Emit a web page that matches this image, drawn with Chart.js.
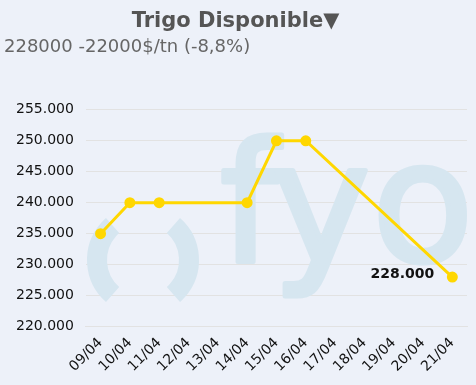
<!DOCTYPE html>
<html lang="es">
<head>
  <meta charset="UTF-8">
  <title>Trigo Disponible</title>
  <script src="https://cdn.jsdelivr.net/npm/chart.js"></script>
  <style>
    html, body { margin: 0; padding: 0; background: #edf1f9; }
    #wrap { width: 476px; height: 385px; }
  </style>
</head>
<body>
<div id="wrap"><canvas id="chart"></canvas></div>
<script>
    // datos
    const labels = ['09/04', '10/04', '11/04', '12/04', '13/04', '14/04', '15/04', '16/04', '17/04', '18/04', '19/04', '20/04', '21/04'];
    const precios = [235000, 240000, 240000, null, null, 240000, 250000, 250000, null, null, null, null, 228000];
    const yTicks = [220000, 225000, 230000, 235000, 240000, 245000, 250000, 255000];

    function formatMiles(v) {
        return String(v).replace(/\B(?=(\d{3})+(?!\d))/g, '.');
    }

    // marca de agua "(fyo)"
    const watermark = {
        id: 'watermark',
        beforeDatasetsDraw(chart) {
            const ctx = chart.ctx;
            ctx.save();
            ctx.fillStyle = '#d6e6f0';
            ctx.strokeStyle = '#d6e6f0';
            ctx.lineWidth = 20;
            ctx.beginPath();
            ctx.arc(143, 260, 46, Math.PI * 0.73, Math.PI * 1.27);
            ctx.stroke();
            ctx.beginPath();
            ctx.arc(143, 260, 46, -Math.PI * 0.27, Math.PI * 0.27);
            ctx.stroke();
            ctx.font = '166px "DejaVu Sans"';
            ctx.textBaseline = 'alphabetic';
            ctx.lineWidth = 5;
            ctx.lineJoin = 'round';
            [['f', 220], ['y', 272], ['o', 372]].forEach(([ch, x]) => {
                ctx.fillText(ch, x, 261);
                ctx.strokeText(ch, x, 261);
            });
            ctx.restore();
        }
    };

    // etiqueta del ultimo valor
    const lastLabel = {
        id: 'lastLabel',
        afterDatasetsDraw(chart) {
            const meta = chart.getDatasetMeta(0);
            const i = precios.length - 1;
            const pt = meta.data[i];
            const ctx = chart.ctx;
            ctx.save();
            ctx.font = 'bold 14px "DejaVu Sans"';
            ctx.fillStyle = '#111';
            ctx.textAlign = 'right';
            ctx.textBaseline = 'middle';
            ctx.fillText(formatMiles(precios[i]), pt.x - 18, pt.y - 3);
            ctx.restore();
        }
    };

    const ctx = document.getElementById('chart').getContext('2d');
    const myChart = new Chart(ctx, {
        type: 'line',
        data: {
            labels: labels,
            datasets: [{
                label: 'Trigo Disponible',
                data: precios,
                borderColor: '#ffd700',
                backgroundColor: '#ffd700',
                borderWidth: 3,
                pointRadius: 4,
                pointHoverRadius: 4,
                spanGaps: true,
                tension: 0
            }]
        },
        options: {
            responsive: true,
            maintainAspectRatio: false,
            animation: false,
            layout: { padding: { left: 4, right: 9, top: 0, bottom: 8 } },
            scales: {
                x: {
                    offset: true,
                    grid: { display: false, drawTicks: true, tickLength: 6, color: '#e2e2e2' },
                    border: { color: '#e2e2e2' },
                    ticks: {
                        color: '#111',
                        font: { family: 'DejaVu Sans', size: 14 },
                        maxRotation: 45,
                        minRotation: 45,
                        autoSkip: false,
                        padding: 2
                    }
                },
                y: {
                    min: 220000,
                    max: 255000,
                    afterBuildTicks(axis) {
                        axis.ticks = yTicks.map(v => ({ value: v }));
                    },
                    grid: { color: '#e2e2e2', drawTicks: false },
                    border: { display: false },
                    ticks: {
                        color: '#111',
                        font: { family: 'DejaVu Sans', size: 14 },
                        padding: 12,
                        callback: v => formatMiles(v)
                    }
                }
            },
            plugins: {
                legend: { display: false },
                tooltip: { enabled: false },
                title: {
                    display: true,
                    text: 'Trigo Disponible\u25BC',
                    color: '#555',
                    font: { family: 'DejaVu Sans', size: 21, weight: 'bold' },
                    padding: { top: 9, bottom: 2 }
                },
                subtitle: {
                    display: true,
                    text: '228000 -22000$/tn (-8,8%)',
                    align: 'start',
                    color: '#666',
                    font: { family: 'DejaVu Sans', size: 18 },
                    padding: { top: 0, bottom: 52 }
                }
            }
        },
        plugins: [watermark, lastLabel]
    });
</script>
</body>
</html>
